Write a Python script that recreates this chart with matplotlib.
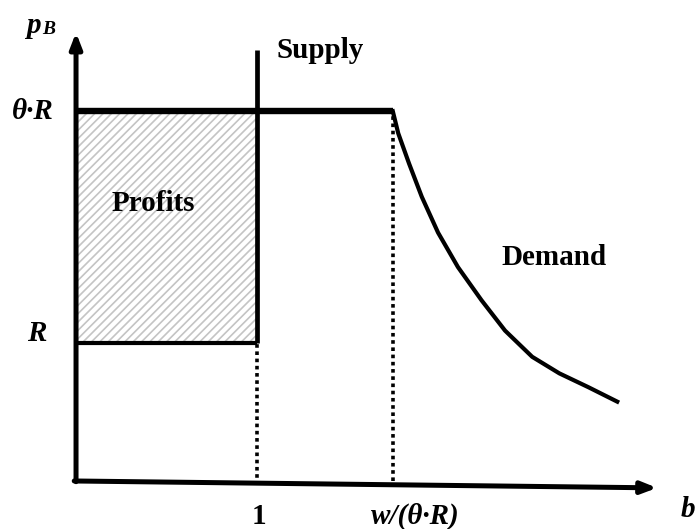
import numpy as np
import matplotlib.pyplot as plt

# conceptual values (supply at b = 1, price floor R = 1)
supply_b = 1.0
kink_b = 1.75            # w/(theta*R)
price_low = 1.0          # R
price_high = 2.68        # theta*R
supply_top = 3.12
xaxis_end = (3.21, -0.05)
yaxis_end = 3.25

demand_b = [1.75, 1.78, 1.84, 1.91, 2.00, 2.11, 2.24, 2.37, 2.52, 2.67, 2.83, 2.99]
demand_p = [2.68, 2.52, 2.30, 2.06, 1.80, 1.55, 1.31, 1.09, 0.90, 0.78, 0.68, 0.575]

plt.rcParams['hatch.linewidth'] = 1.2
plt.rcParams['hatch.color'] = '#c4c4c4'

fig = plt.figure(figsize=(6.96, 5.29), dpi=100)
ax = fig.add_axes([0, 0, 1, 1])
ax.set_xlim(-0.420, 3.425)
ax.set_ylim(-0.348, 3.486)
ax.axis('off')

# profits area
ax.fill_between([0, supply_b], price_low, price_high, facecolor='white',
                hatch='////', edgecolor='#c4c4c4', linewidth=0, zorder=1)

# axes arrows
ax.annotate('', xy=(0, yaxis_end), xytext=(0, -0.005),
            arrowprops=dict(arrowstyle='-|>,head_length=0.9,head_width=0.35',
                            color='black', lw=3.6, shrinkA=0, shrinkB=0), zorder=5)
ax.annotate('', xy=xaxis_end, xytext=(-0.01, 0),
            arrowprops=dict(arrowstyle='-|>,head_length=0.9,head_width=0.35',
                            color='black', lw=3.6, shrinkA=0, shrinkB=0), zorder=5)

# theta*R line and R line
ax.plot([0, kink_b], [price_high, price_high], color='black', lw=4.6,
        solid_capstyle='butt', zorder=4)
ax.plot([0, supply_b], [price_low, price_low], color='black', lw=3.0,
        solid_capstyle='butt', zorder=4)

# supply
ax.plot([supply_b, supply_b], [price_low, supply_top], color='black', lw=3.4,
        solid_capstyle='butt', zorder=4)

# demand
ax.plot(demand_b, demand_p, color='black', lw=3.0, solid_joinstyle='round', zorder=4)

# dotted guides
ax.plot([supply_b, supply_b], [-0.03, price_low], color='black', lw=2.6,
        linestyle=(0, (1, 1)), zorder=3)
ax.plot([kink_b, kink_b], [0, price_high], color='black', lw=2.6,
        linestyle=(0, (1, 1)), zorder=3)

serif = 'Liberation Serif'
fs = 21
ax.text(-0.238, 3.30, 'p', fontsize=fs, family=serif, weight='bold',
        style='italic', ha='center', va='center')
ax.text(-0.152, 3.27, 'B', fontsize=14, family=serif, weight='bold',
        style='italic', ha='center', va='center')
ax.text(-0.238, price_high, 'θ·R', fontsize=fs, family=serif, weight='bold',
        style='italic', ha='center', va='center')
ax.text(-0.215, 1.072, 'R', fontsize=fs, family=serif, weight='bold',
        style='italic', ha='center', va='center')
ax.text(1.348, 3.123, 'Supply', fontsize=fs, family=serif, weight='bold',
        ha='center', va='center')
ax.text(0.425, 2.014, 'Profits', fontsize=fs, family=serif, weight='bold',
        ha='center', va='center')
ax.text(2.641, 1.623, 'Demand', fontsize=fs, family=serif, weight='bold',
        ha='center', va='center')
ax.text(supply_b + 0.011, -0.254, '1', fontsize=fs, family=serif, weight='bold',
        ha='center', va='center')
ax.text(1.873, -0.254, 'w/(θ·R)', fontsize=fs, family=serif, weight='bold',
        style='italic', ha='center', va='center')
ax.text(3.381, -0.21, 'b', fontsize=fs, family=serif, weight='bold',
        style='italic', ha='center', va='center')

fig.savefig('out.png', dpi=100)
